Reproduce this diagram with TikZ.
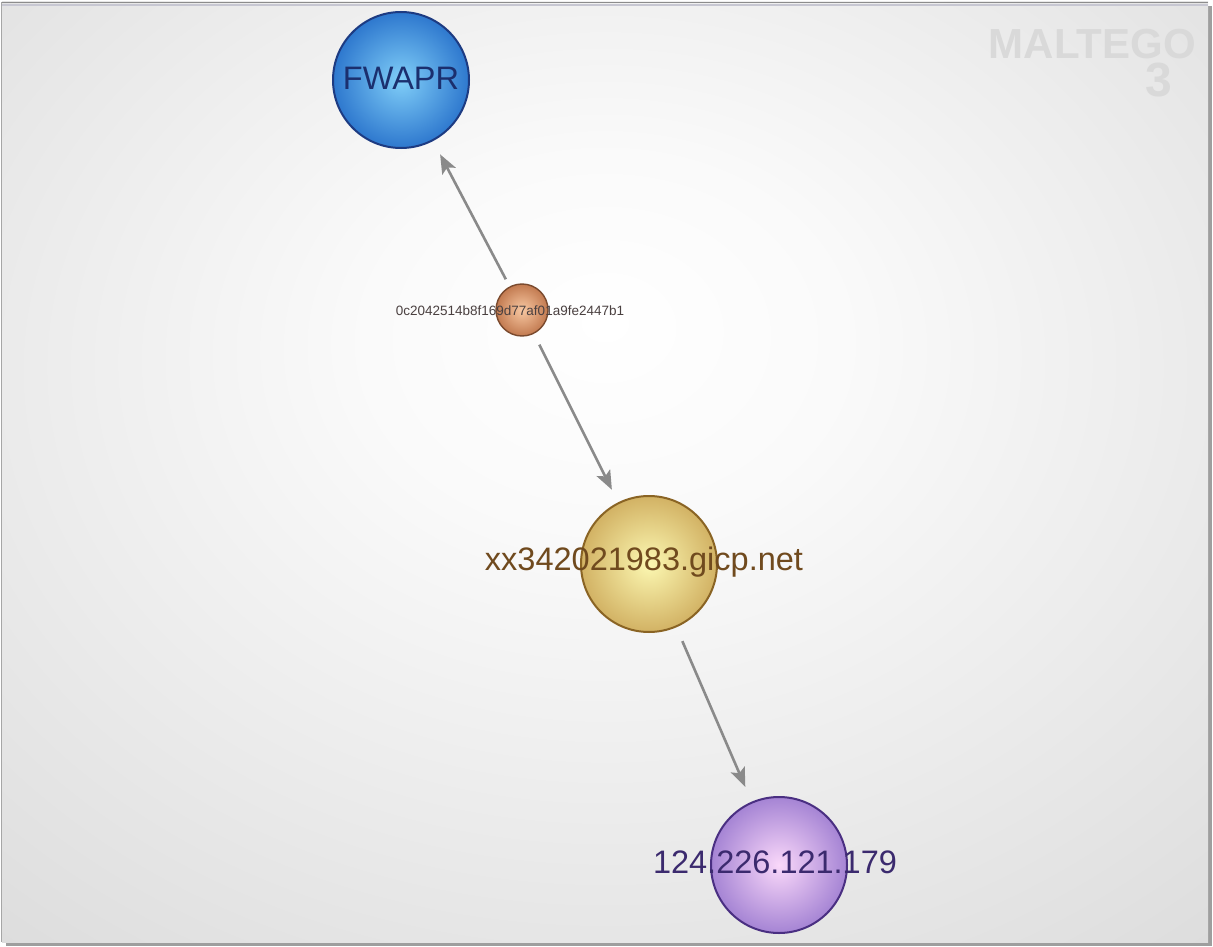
\documentclass[tikz,border=0pt]{standalone}
\usepackage{fontspec}
\setmainfont{Liberation Sans}
\usetikzlibrary{arrows.meta}

% canvas backdrop: bright middle fading to grey at the edges
\pgfdeclareradialshading{canvasglow}{\pgfpoint{0bp}{8bp}}{%
  color(0bp)=(white); color(10bp)=(white!98!black);
  color(45bp)=(white!84!black); color(75bp)=(white!79!black)}

\definecolor{edgegray}{HTML}{8A8A8A}
\definecolor{fwin}{HTML}{80CEF8}\definecolor{fwout}{HTML}{2E78CE}\definecolor{fwline}{HTML}{1D3B82}\definecolor{fwtext}{HTML}{1B2F6E}
\definecolor{hsin}{HTML}{F8C8A2}\definecolor{hsout}{HTML}{C27A50}\definecolor{hsline}{HTML}{7A4A2E}\definecolor{hstext}{HTML}{4A4040}
\definecolor{dmin}{HTML}{FCF8B2}\definecolor{dmout}{HTML}{D2B264}\definecolor{dmline}{HTML}{8A6424}\definecolor{dmtext}{HTML}{704A1E}
\definecolor{ipin}{HTML}{FAD8FA}\definecolor{ipout}{HTML}{A584D4}\definecolor{ipline}{HTML}{4A2F82}\definecolor{iptext}{HTML}{3B2A6E}

\tikzset{
  entity/.style n args={3}{circle, minimum size=#1, inner sep=0pt,
     inner color=#2in, outer color=#2out, draw=#2line, line width=#3},
  biglabel/.style={font=\fontsize{32.5}{34}\selectfont},
  watermark/.style={font=\bfseries\fontsize{42}{38}\selectfont, text=black!15,
     inner sep=0pt, align=right},
  link/.style={draw=edgegray, line width=2.6pt,
     -{Stealth[length=19pt,width=15pt,inset=4pt]},
     shorten <=#1},
  link/.default=10pt
}

\begin{document}
\begin{tikzpicture}[x=1pt,y=-1pt]
  \useasboundingbox (0,0) rectangle (1213,947);

  % panel with its drop shadow
  \fill[black!38] (6,6) rectangle (1212,946);
  \shade[shading=canvasglow] (2,2) rectangle (1208,942);
  \draw[black!45, line width=1pt] (1.5,2.5) -- (1208,2.5);
  \draw[blue!20!black!22, line width=1.5pt] (2,5) -- (1208,5);
  \draw[black!35, line width=0.8pt] (1.5,2) -- (1.5,942);

  % watermark
  \node[watermark, anchor=north east] (wmark) at (1196,29)
    {MALTEGO\\{\fontsize{48}{38}\selectfont 3\hspace*{24pt}}};

  % entities
  \node[entity={136pt}{fw}{2pt}] (fwapr) at (401,80) {};
  \node[entity={52pt}{hs}{1.4pt}] (hash) at (522,310) {};
  \node[entity={136pt}{dm}{2pt}] (domain) at (649,564) {};
  \node[entity={136pt}{ip}{2pt}] (ipaddr) at (779,865) {};

  % labels
  \node[biglabel, text=fwtext] (fwaprlbl) at (401,78) {FWAPR};
  \node[font=\fontsize{13.5}{14}\selectfont, text=hstext] (hashlbl) at (510,311)
    {0c2042514b8f169d77af01a9fe2447b1};
  \node[biglabel, text=dmtext] (domainlbl) at (644,562) {xx342021983.gicp.net};
  \node[biglabel, text=iptext] (iplbl) at (775,862) {124.226.121.179};

  % relations
  \draw[link=8pt, shorten >=15pt] (hash) -- (fwapr);
  \draw[link=12pt, shorten >=14pt] (hash) -- (domain);
  \draw[link=15pt, shorten >=16pt] (domain) -- (ipaddr);
\end{tikzpicture}
\end{document}
